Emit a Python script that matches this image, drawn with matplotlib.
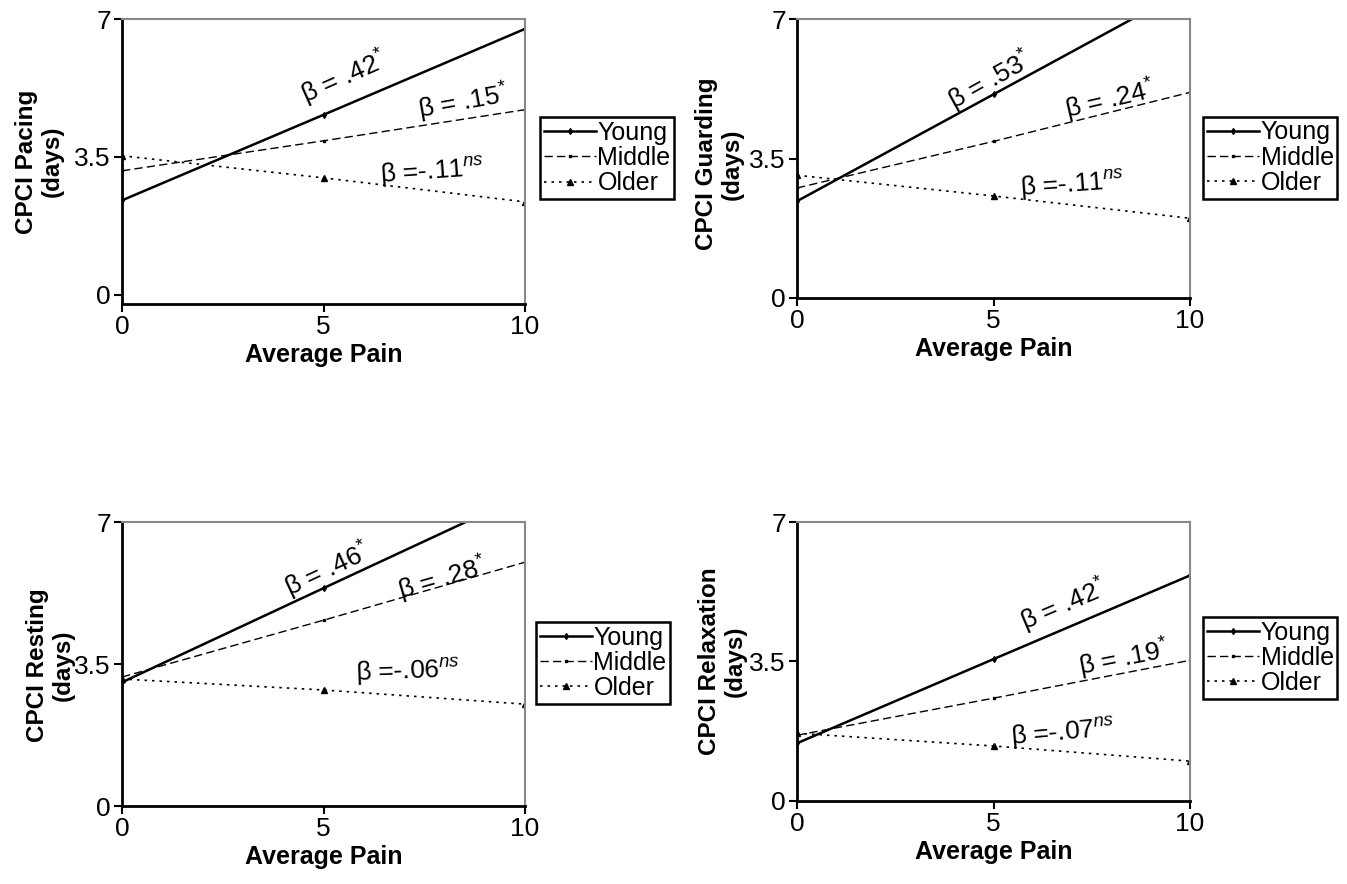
import matplotlib
matplotlib.use("Agg")
import matplotlib.pyplot as plt
from matplotlib import font_manager

plt.rcParams['font.family'] = ['Liberation Sans', 'DejaVu Sans']
plt.rcParams['mathtext.fontset'] = 'custom'

names = set(f.name for f in font_manager.fontManager.ttflist)
narrow = 'Liberation Sans Narrow' if 'Liberation Sans Narrow' in names else 'Liberation Sans'
plt.rcParams['mathtext.rm'] = narrow
plt.rcParams['mathtext.it'] = narrow + ':italic'

pain = [0, 5, 10]
groups = ["Young", "Middle", "Older"]

# CPCI values (days) at pain 0, 5, 10
pacing_young = [2.40, 4.57, 6.75]
pacing_middle = [3.15, 3.91, 4.70]
pacing_older = [3.53, 2.97, 2.36]

guarding_young = [2.43, 5.11, 7.79]
guarding_middle = [2.76, 3.93, 5.16]
guarding_older = [3.08, 2.56, 2.00]

resting_young = [3.05, 5.37, 7.68]
resting_middle = [3.18, 4.58, 6.01]
resting_older = [3.13, 2.86, 2.51]

relax_young = [1.45, 3.56, 5.66]
relax_middle = [1.65, 2.58, 3.53]
relax_older = [1.70, 1.38, 1.00]

ylabels = ["CPCI Pacing\n(days)", "CPCI Guarding\n(days)",
           "CPCI Resting\n(days)", "CPCI Relaxation\n(days)"]

betas = [
    [".42$^{*}$", ".15$^{*}$", "-.11$^{ns}$"],
    [".53$^{*}$", ".24$^{*}$", "-.11$^{ns}$"],
    [".46$^{*}$", ".28$^{*}$", "-.06$^{ns}$"],
    [".42$^{*}$", ".19$^{*}$", "-.07$^{ns}$"],
]

# annotation placement (x, y, rotation) per panel
ann_pos = [
    [(5.5, 5.5, 24), (8.45, 4.9, 10), (7.7, 3.12, 4)],
    [(4.9, 5.46, 29), (7.95, 4.96, 13), (7.0, 2.83, 4)],
    [(5.1, 5.81, 25), (7.95, 5.6, 16), (7.1, 3.32, 2)],
    [(6.77, 4.9, 23), (8.3, 3.58, 11), (6.77, 1.7, 5)],
]

data = [
    [pacing_young, pacing_middle, pacing_older],
    [guarding_young, guarding_middle, guarding_older],
    [resting_young, resting_middle, resting_older],
    [relax_young, relax_middle, relax_older],
]

rects = [
    [0.0906, 0.6561, 0.2992, 0.3224],
    [0.5917, 0.6629, 0.2918, 0.3156],
    [0.0906, 0.0882, 0.2992, 0.3213],
    [0.5917, 0.0939, 0.2918, 0.3156],
]
ybottoms = [-0.23, 0, 0, 0]
leg_anchor = [(1.037, 0.656), (1.033, 0.65), (1.027, 0.648), (1.033, 0.66)]
ylab_xy = [(-0.144, 0.50), (-0.135, 0.48), (-0.117, 0.495), (-0.127, 0.50)]

styles = [
    dict(linestyle='-', linewidth=1.8, marker='d', markersize=3),
    dict(linestyle=(0, (6, 3)), linewidth=1.0, marker='s', markersize=2),
    dict(linestyle=(0, (1.5, 3)), linewidth=1.2, marker='^', markersize=4),
]

fig = plt.figure(figsize=(13.47, 8.84), dpi=100)

for i in range(4):
    ax = fig.add_axes(rects[i])
    for j in range(3):
        ax.plot(pain, data[i][j], color='black', label=groups[j], clip_on=True, **styles[j])
    ax.set_xlim(0, 10)
    ax.set_ylim(ybottoms[i], 7)
    ax.set_xticks([0, 5, 10])
    ax.set_yticks([0, 3.5, 7])
    ax.set_yticklabels(["0", "3.5", "7"])
    ax.tick_params(labelsize=19, length=6, width=1.5, direction='out', pad=2)
    for lab in ax.get_xticklabels() + ax.get_yticklabels():
        lab.set_family(narrow)
    for s in ['left', 'bottom']:
        ax.spines[s].set_color('black')
        ax.spines[s].set_linewidth(2)
    for s in ['top', 'right']:
        ax.spines[s].set_color('#888888')
        ax.spines[s].set_linewidth(1.5)
    ax.set_xlabel("Average Pain", fontsize=18, fontweight='bold', labelpad=3)
    ax.set_ylabel(ylabels[i], fontsize=17.5, fontweight='bold', linespacing=1.15)
    ax.yaxis.set_label_coords(*ylab_xy[i])
    for j in range(3):
        x, y, r = ann_pos[i][j]
        ax.text(x, y, "β =" + (" " if j < 2 else "") + betas[i][j], fontsize=19,
                family=narrow, rotation=r, ha='center', va='center', rotation_mode='anchor')
    leg = ax.legend(loc='upper left', bbox_to_anchor=leg_anchor[i], fontsize=18,
                    frameon=True, fancybox=False, framealpha=1, edgecolor='black',
                    borderpad=0.15, labelspacing=0.05, handlelength=2.1,
                    handletextpad=0.05, borderaxespad=0)
    leg.get_frame().set_linewidth(1.8)

fig.savefig("out.png", dpi=100)
